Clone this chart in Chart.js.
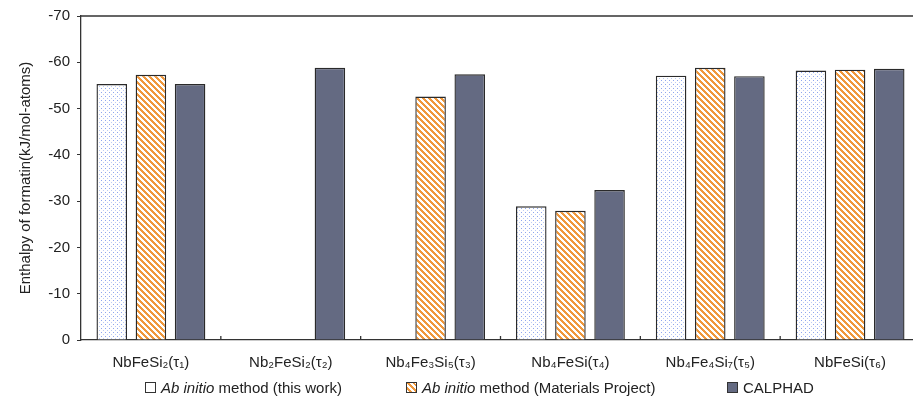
<!DOCTYPE html>
<html>
<head>
<meta charset="utf-8">
<script src="https://cdn.jsdelivr.net/npm/chart.js@4.4.1/dist/chart.umd.min.js"></script>
<style>
  body { margin: 0; overflow: hidden; background: #fff; }
  #wrap { position: relative; width: 925px; height: 400px; }
  .item { position: absolute; top: 377px; height: 20px; display: flex; align-items: center;
          font-family: "Liberation Sans", Arial, sans-serif; font-size: 15px; color: #222; white-space: nowrap; }
  .box { width: 9px; height: 9px; border: 1px solid #333; margin-right: 5px; }
  .dots { background: #fff; }
  .hatch { background: repeating-linear-gradient(45deg, #fff 0 2px, #f0983c 2px 4px); }
  .solid { background: #646a82; }
</style>
</head>
<body>
<div id="wrap">
  <canvas id="myChart" width="925" height="400"></canvas>
  <div class="item" style="left:145px"><span class="box dots"></span><span><i>Ab initio</i> method (this work)</span></div>
  <div class="item" style="left:406px"><span class="box hatch"></span><span><i>Ab initio</i> method (Materials Project)</span></div>
  <div class="item" style="left:727px"><span class="box solid"></span><span>CALPHAD</span></div>
</div>
<script>
const categories = ['NbFeSi₂(τ₁)', 'Nb₂FeSi₂(τ₂)', 'Nb₄Fe₃Si₅(τ₃)', 'Nb₄FeSi(τ₄)', 'Nb₄Fe₄Si₇(τ₅)', 'NbFeSi(τ₆)']
const thisWork = [-55.3, null, null, -28.9, -57.1, -58.2]
const materialsProject = [-57.3, null, -52.6, -27.9, -58.8, -58.4]
const calphad = [-55.3, -58.8, -57.4, -32.4, -57.0, -58.6]
const yTicks = [0, -10, -20, -30, -40, -50, -60, -70]

const font = "'Liberation Sans', Arial, sans-serif"

function dotPattern(){
    const c = document.createElement('canvas')
    c.width = 4; c.height = 4
    const g = c.getContext('2d')
    g.fillStyle = '#fff'
    g.fillRect(0, 0, 4, 4)
    g.fillStyle = '#8ea6ee'
    g.fillRect(1, 0, 1, 1)
    g.fillStyle = '#bccbf4'
    g.fillRect(3, 2, 1, 1)
    return g.createPattern(c, 'repeat')
}
function hatchPattern(){
    const n = 6
    const c = document.createElement('canvas')
    c.width = n; c.height = n
    const g = c.getContext('2d')
    g.fillStyle = '#fff'
    g.fillRect(0, 0, n, n)
    g.fillStyle = '#f0983c'
    for(let y = 0; y < n; y++){
        for(let x = 0; x < n; x++){
            if(((x - y + 2 * n) % n) < 3) g.fillRect(x, y, 1, 1)
        }
    }
    return g.createPattern(c, 'repeat')
}

// top frame line + inward ticks between categories
const framePlugin = {
    id: 'frame',
    afterDraw(chart){
        const ctx = chart.ctx
        const a = chart.chartArea
        const xs = chart.scales.x
        ctx.save()
        ctx.strokeStyle = '#333'
        ctx.lineWidth = 1.3
        ctx.beginPath()
        ctx.moveTo(a.left, a.top)
        ctx.lineTo(a.right, a.top)
        for(let i = 1; i < categories.length; i++){
            const px = (xs.getPixelForValue(i - 1) + xs.getPixelForValue(i)) / 2
            ctx.moveTo(px, a.bottom)
            ctx.lineTo(px, a.bottom - 4)
        }
        ctx.stroke()
        ctx.restore()
    }
}

const ctx = document.getElementById('myChart').getContext('2d')
const barStyle = { borderColor: '#2a2a2a', borderWidth: 1.4, categoryPercentage: 0.84, barPercentage: 0.78 }

new Chart(ctx, {
    type: 'bar',
    data: {
        labels: categories,
        datasets: [
            Object.assign({ label: 'Ab initio method (this work)', data: thisWork, backgroundColor: dotPattern() }, barStyle),
            Object.assign({ label: 'Ab initio method (Materials Project)', data: materialsProject, backgroundColor: hatchPattern() }, barStyle),
            Object.assign({ label: 'CALPHAD', data: calphad, backgroundColor: '#646a82' }, barStyle)
        ]
    },
    options: {
        responsive: false,
        animation: false,
        layout: { padding: { top: 13, right: 5, left: 0, bottom: 0 } },
        plugins: { legend: { display: false }, tooltip: { enabled: false } },
        scales: {
            x: {
                grid: { display: false },
                border: { color: '#333', width: 1.3 },
                ticks: { color: '#222', font: { family: font, size: 15 }, padding: 6, maxRotation: 0 },
                afterFit(s){ s.height = 60 }
            },
            y: {
                min: -70,
                max: 0,
                reverse: true,
                afterBuildTicks(s){ s.ticks = yTicks.map(v => ({ value: v })) },
                grid: { drawOnChartArea: false, color: '#333', tickLength: 4 },
                border: { color: '#333', width: 1.3 },
                ticks: { color: '#222', font: { family: font, size: 15 }, padding: 7 },
                title: { display: true, text: 'Enthalpy of formatin(kJ/mol-atoms)', color: '#222',
                         font: { family: font, size: 15 }, padding: { top: 17, bottom: 0 } },
                afterFit(s){ s.width = 81 }
            }
        }
    },
    plugins: [framePlugin]
})
</script>
</body>
</html>
